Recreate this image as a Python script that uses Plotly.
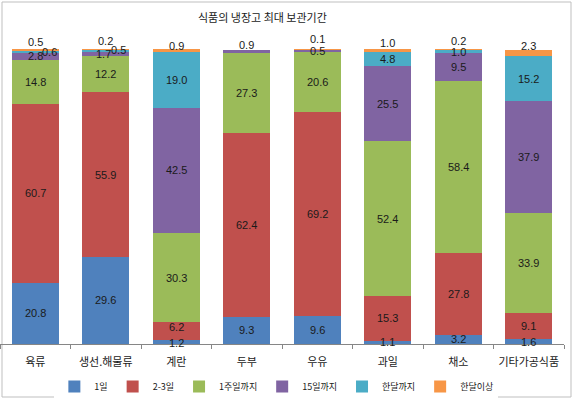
import plotly.graph_objects as go

categories = ["육류", "생선.해물류", "계란", "두부", "우유", "과일", "채소", "기타가공식품"]
series_names = ["1일", "2-3일", "1주일까지", "15일까지", "한달까지", "한달이상"]

v_1day = [20.8, 29.6, 1.2, 9.3, 9.6, 1.1, 3.2, 1.6]
v_2_3day = [60.7, 55.9, 6.2, 62.4, 69.2, 15.3, 27.8, 9.1]
v_1week = [14.8, 12.2, 30.3, 27.3, 20.6, 52.4, 58.4, 33.9]
v_15day = [2.8, 1.7, 42.5, 0.9, 0.5, 25.5, 9.5, 37.9]
v_1month = [0.6, 0.5, 19.0, 0.0, 0.0, 4.8, 1.0, 15.2]
v_over = [0.5, 0.2, 0.9, 0.0, 0.1, 1.0, 0.2, 2.3]

series_values = [v_1day, v_2_3day, v_1week, v_15day, v_1month, v_over]
colors = ["#4F81BD", "#C0504D", "#9BBB59", "#8064A2", "#4BACC6", "#F79646"]

# label offsets (pixels) for small segments: (category index, series index) -> (dx, dy)
label_offsets = {
    (0, 3): (0, 0), (0, 4): (14, -1), (0, 5): (0, 8),
    (1, 3): (-2, 0), (1, 4): (13, 1), (1, 5): (0, 9),
    (2, 0): (0, -1), (2, 1): (0, 4), (2, 5): (0, 5),
    (3, 3): (0, 6),
    (4, 3): (0, 0), (4, 5): (0, 11),
    (5, 5): (0, 8),
    (6, 4): (0, -1), (6, 5): (0, 9),
    (7, 5): (0, 7),
}

fig = go.Figure()
for name, vals, col in zip(series_names, series_values, colors):
    fig.add_trace(go.Bar(x=categories, y=vals, name=name, marker_color=col,
                         marker_line_width=0))

annotations = []
for ci, cat in enumerate(categories):
    base = 0.0
    for si, vals in enumerate(series_values):
        v = vals[ci]
        if v > 0:
            dx, dy = label_offsets.get((ci, si), (0, 0))
            annotations.append(dict(x=cat, y=base + v / 2, text=f"{v:.1f}", showarrow=False,
                                    xshift=dx, yshift=dy,
                                    font=dict(size=11, color="#1a1a1a", family="Liberation Sans")))
        base += v

annotations.append(dict(text="식품의 냉장고 최대 보관기간", xref="paper", yref="paper",
                        x=0.466, y=(344 - 17) / 295, xanchor="center", yanchor="middle",
                        showarrow=False, font=dict(size=11, color="#1a1a1a", family="Noto Sans CJK KR")))

fig.update_layout(
    width=574, height=399,
    margin=dict(l=0, r=10, t=49, b=55, autoexpand=False),
    barmode="stack",
    bargap=0.33,
    plot_bgcolor="white", paper_bgcolor="white",
    annotations=annotations,
    showlegend=True,
    legend=dict(orientation="h", x=0.49, xanchor="center", y=-0.095, yanchor="top",
                font=dict(size=9, color="#1a1a1a", family="Noto Sans CJK KR"),
                itemwidth=30, traceorder="normal"),
    shapes=[dict(type="rect", xref="paper", yref="paper",
                 x0=(2 - 0) / 564, x1=(571 - 0) / 564,
                 y0=(344 - 397) / 295, y1=(344 - 2) / 295,
                 line=dict(color="#BFBFBF", width=1), layer="below")],
)
fig.update_xaxes(showline=True, linecolor="#868686", linewidth=1, automargin=False,
                 ticks="outside", tickson="boundaries", ticklen=4, tickcolor="#868686",
                 tickfont=dict(size=11, color="#1a1a1a", family="Noto Sans CJK KR"),
                 ticklabelstandoff=8)
fig.update_yaxes(range=[0, 100.2], visible=False, showgrid=False, automargin=False)

fig.write_html("out.html", config={"displayModeBar": False},
               post_script="document.body.style.margin='0';document.body.style.overflow='hidden';")
